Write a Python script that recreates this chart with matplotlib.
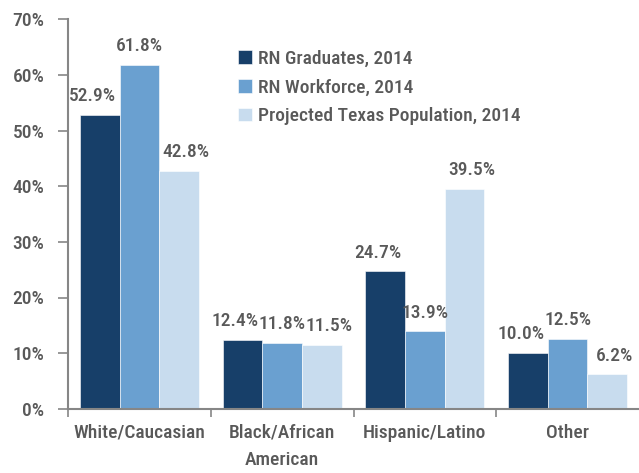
import matplotlib
matplotlib.use("Agg")
import matplotlib.pyplot as plt
import numpy as np

plt.rcParams['font.family'] = ['Roboto Condensed', 'DejaVu Sans']
plt.rcParams['font.weight'] = 'medium'

categories = ["White/Caucasian", "Black/African\nAmerican", "Hispanic/Latino", "Other"]
series_names = ["RN Graduates, 2014", "RN Workforce, 2014", "Projected Texas Population, 2014"]
rn_graduates = [52.9, 12.4, 24.7, 10.0]
rn_workforce = [61.8, 11.8, 13.9, 12.5]
tx_population = [42.8, 11.5, 39.5, 6.2]
yticks = [0, 10, 20, 30, 40, 50, 60, 70]

colors = ["#173F69", "#6AA0D0", "#C8DCEE"]
text_color = "#595959"
spine_color = "#868686"
fs = 14

fig = plt.figure(figsize=(6.39, 4.73), dpi=100)
ax = fig.add_axes([68/639, 1 - 408.7/473, (639 - 68)/639, (408.7 - 19.5)/473])

x = np.arange(len(categories))
width = 0.278
label_dx = [-0.05, 0.0, 0.05]
for i, (vals, name, c) in enumerate(zip([rn_graduates, rn_workforce, tx_population], series_names, colors)):
    pos = x + (i - 1) * width
    ax.bar(pos, vals, width, color=c, label=name, edgecolor="white", linewidth=0.4)
    for p, v in zip(pos, vals):
        ax.annotate(f"{v:.1f}%", (p + label_dx[i], v), xytext=(0, 7), textcoords="offset points",
                    ha="center", va="bottom", fontsize=fs, color=text_color)

ax.set_xlim(-0.5, len(categories) - 0.5)
ax.set_ylim(0, 70)
ax.set_yticks(yticks)
ax.set_yticklabels([f"{t}%" for t in yticks], fontsize=fs, color=text_color)
ax.set_xticks(x)
ax.set_xticklabels(categories, fontsize=fs, color=text_color, linespacing=1.65)
ax.tick_params(axis='x', length=0, pad=11)
ax.set_xticks(np.arange(len(categories)) - 0.5, minor=True)
ax.tick_params(axis='x', which='minor', length=6, direction='out', color=spine_color, width=1.2)
ax.tick_params(axis='y', length=7, direction='out', color=spine_color, width=1.2, pad=10)

for s in ['top', 'right']:
    ax.spines[s].set_visible(False)
for s in ['left', 'bottom']:
    ax.spines[s].set_color(spine_color)
    ax.spines[s].set_linewidth(1.5)

leg = ax.legend(loc="upper left", bbox_to_anchor=(238/639, 1 - 50/473), bbox_transform=fig.transFigure,
                frameon=False, fontsize=fs, handlelength=0.7, handleheight=0.7, handletextpad=0.35,
                labelspacing=0.55, borderaxespad=0, borderpad=0)
for t in leg.get_texts():
    t.set_color(text_color)

fig.savefig("out.png", dpi=100)
